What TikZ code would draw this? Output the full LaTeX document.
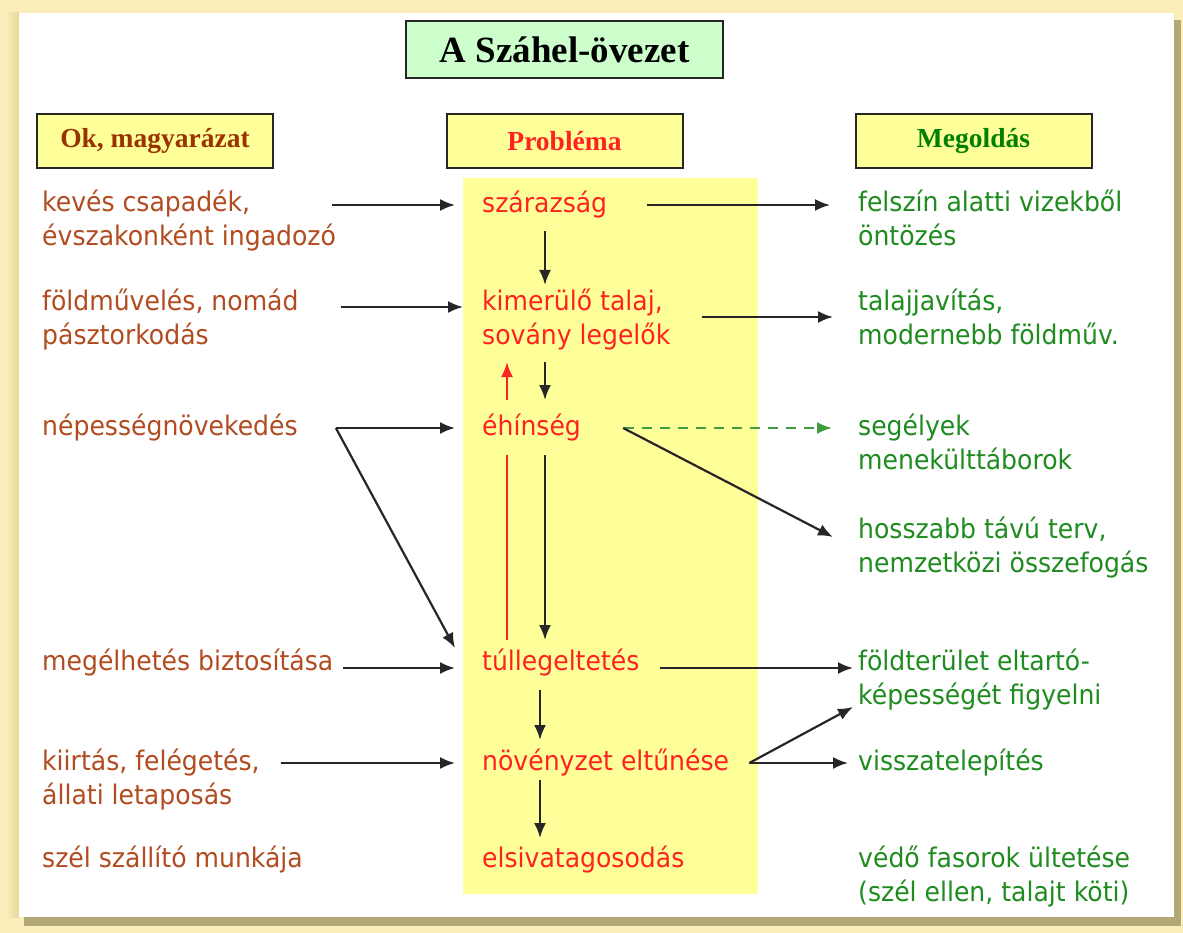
\documentclass[tikz,border=0pt]{standalone}
\usepackage{fontspec}
\setmainfont{Liberation Serif}
\newfontfamily\comic[FakeStretch=0.93]{DejaVu Sans}
\usetikzlibrary{arrows.meta,positioning}

\definecolor{frameyellow}{RGB}{251,238,185}
\definecolor{framegold}{RGB}{232,214,150}
\definecolor{frameshadow}{RGB}{178,168,120}
\definecolor{boxyellow}{RGB}{255,255,153}
\definecolor{titlegreen}{RGB}{204,255,204}
\definecolor{causecol}{RGB}{178,76,32}
\definecolor{causehead}{RGB}{153,51,0}
\definecolor{probcol}{RGB}{255,34,34}
\definecolor{solcol}{RGB}{30,140,30}
\definecolor{solhead}{RGB}{0,128,0}

\tikzset{
  txt/.style={anchor=base west, align=left, inner sep=0pt,
    font=\comic\fontsize{27}{34}\selectfont},
  cause/.style={txt, text=causecol},
  prob/.style={txt, text=probcol},
  sol/.style={txt, text=solcol},
  head/.style={draw=black!85, line width=2pt, fill=boxyellow,
    minimum width=236pt, minimum height=54pt, inner sep=0pt,
    font=\bfseries\fontsize{27.5}{30}\selectfont},
  arr/.style={-{Latex[length=15pt,width=12pt]}, line width=2.2pt, draw=black!85},
  redarr/.style={-{Latex[length=15pt,width=12pt]}, line width=2.2pt, draw=probcol},
}

\begin{document}
\begin{tikzpicture}[x=1pt,y=-1pt]
  % frame
  \useasboundingbox (0,0) rectangle (1183,933);
  \fill[frameyellow] (0,0) rectangle (1183,933);
  \shade[left color=frameyellow, right color=framegold] (6,13) rectangle (19,917);
  \fill[frameshadow] (24,20) rectangle (1181,926);
  \fill[white] (19,13) rectangle (1174,917);

  % headers
  \node[draw=black!85, line width=2pt, fill=titlegreen, minimum width=317pt,
    minimum height=57pt, font=\bfseries\fontsize{37}{40}\selectfont]
    (title) at (564.5,49.5) {A Száhel-övezet};
  \node[head, text=causehead] (okhead) at (155,141) {Ok, magyarázat};
  \node[head, text=probcol] (probhead) at (564.5,141) {Probléma};
  \node[head, text=solhead] (megoldhead) at (973.5,141) {Megoldás};

  % problem column
  \fill[boxyellow] (463,178) rectangle (758,894);

  % causes
  \node[cause] (csap) at (42,246) {kevés csapadék,\\évszakonként ingadozó};
  \node[cause] (foldm) at (42,344) {földművelés, nomád\\pásztorkodás};
  \node[cause] (nepes) at (42,435) {népességnövekedés};
  \node[cause] (megel) at (42,670) {megélhetés biztosítása};
  \node[cause] (kiirt) at (42,804) {kiirtás, felégetés,\\állati letaposás};
  \node[cause] (szel) at (42,867) {szél szállító munkája};

  % problems
  \node[prob] (szaraz) at (482,213) {szárazság};
  \node[prob] (talaj) at (482,344) {kimerülő talaj,\\sovány legelők};
  \node[prob] (ehin) at (482,435) {éhínség};
  \node[prob] (tulleg) at (482,670) {túllegeltetés};
  \node[prob] (noveny) at (482,770) {növényzet eltűnése};
  \node[prob] (sivat) at (482,867) {elsivatagosodás};

  % solutions
  \node[sol] (ontoz) at (858,246) {felszín alatti vizekből\\öntözés};
  \node[sol] (javit) at (858,344) {talajjavítás,\\modernebb földműv.};
  \node[sol] (segely) at (858,469) {segélyek\\menekülttáborok};
  \node[sol] (terv) at (858,572) {hosszabb távú terv,\\nemzetközi összefogás};
  \node[sol] (eltart) at (858,704) {földterület eltartó-\\képességét figyelni};
  \node[sol] (vissza) at (858,770) {visszatelepítés};
  \node[sol] (vedo) at (858,901) {védő fasorok ültetése\\(szél ellen, talajt köti)};

  % causes -> problems
  \draw[arr] ([xshift=-4pt,yshift=41pt]csap.base east) -- ([xshift=-27pt,yshift=8pt]szaraz.base west);
  \draw[arr] ([xshift=42pt,yshift=37pt]foldm.base east) -- ([xshift=-19pt,yshift=37pt]talaj.base west);
  \draw[arr] ([xshift=38pt,yshift=7pt]nepes.base east) -- ([xshift=-27pt,yshift=7pt]ehin.base west);
  \draw[arr] ([xshift=38pt,yshift=7pt]nepes.base east) -- ([xshift=-27pt,yshift=22pt]tulleg.base west);
  \draw[arr] ([xshift=10pt,yshift=2pt]megel.base east) -- ([xshift=-27pt,yshift=2pt]tulleg.base west);
  \draw[arr] ([xshift=21pt,yshift=41pt]kiirt.base east) -- ([xshift=-27pt,yshift=7pt]noveny.base west);

  % problem chain
  \draw[arr] ([xshift=63pt,yshift=-18pt]szaraz.base west) -- ([xshift=63pt,yshift=59pt]talaj.base west);
  \draw[arr] ([xshift=63pt,yshift=-18pt]talaj.base west) -- ([xshift=63pt,yshift=35pt]ehin.base west);
  \draw[redarr] ([xshift=25pt,yshift=35pt]ehin.base west) -- ([xshift=25pt,yshift=-18pt]talaj.base west);
  \draw[arr] ([xshift=63pt,yshift=-20pt]ehin.base west) -- ([xshift=63pt,yshift=30pt]tulleg.base west);
  \draw[probcol, line width=2.2pt] ([xshift=25pt,yshift=-20pt]ehin.base west) -- ([xshift=25pt,yshift=30pt]tulleg.base west);
  \draw[arr] ([xshift=58pt,yshift=-20pt]tulleg.base west) -- ([xshift=58pt,yshift=30pt]noveny.base west);
  \draw[arr] ([xshift=58pt,yshift=-10pt]noveny.base west) -- ([xshift=58pt,yshift=29pt]sivat.base west);

  % problems -> solutions
  \draw[arr] ([xshift=40pt,yshift=8pt]szaraz.base east) -- ([xshift=-28pt,yshift=41pt]ontoz.base west);
  \draw[arr] ([xshift=31pt,yshift=27pt]talaj.base east) -- ([xshift=-25pt,yshift=27pt]javit.base west);
  \draw[-{Latex[length=15pt,width=12pt]}, line width=2.2pt, draw=solcol!85, dash pattern=on 10pt off 8pt]
    ([xshift=43pt,yshift=7pt]ehin.base east) -- ([xshift=-26pt,yshift=41pt]segely.base west);
  \draw[arr] ([xshift=42pt,yshift=7pt]ehin.base east) -- ([xshift=-25pt,yshift=35pt]terv.base west);
  \draw[arr] ([xshift=20pt,yshift=2pt]tulleg.base east) -- ([xshift=-5pt,yshift=36pt]eltart.base west);
  \draw[arr] ([xshift=20pt,yshift=7pt]noveny.base east) -- ([xshift=-5pt,yshift=-3pt]eltart.base west);
  \draw[arr] ([xshift=20pt,yshift=7pt]noveny.base east) -- ([xshift=-10pt,yshift=7pt]vissza.base west);
\end{tikzpicture}
\end{document}
